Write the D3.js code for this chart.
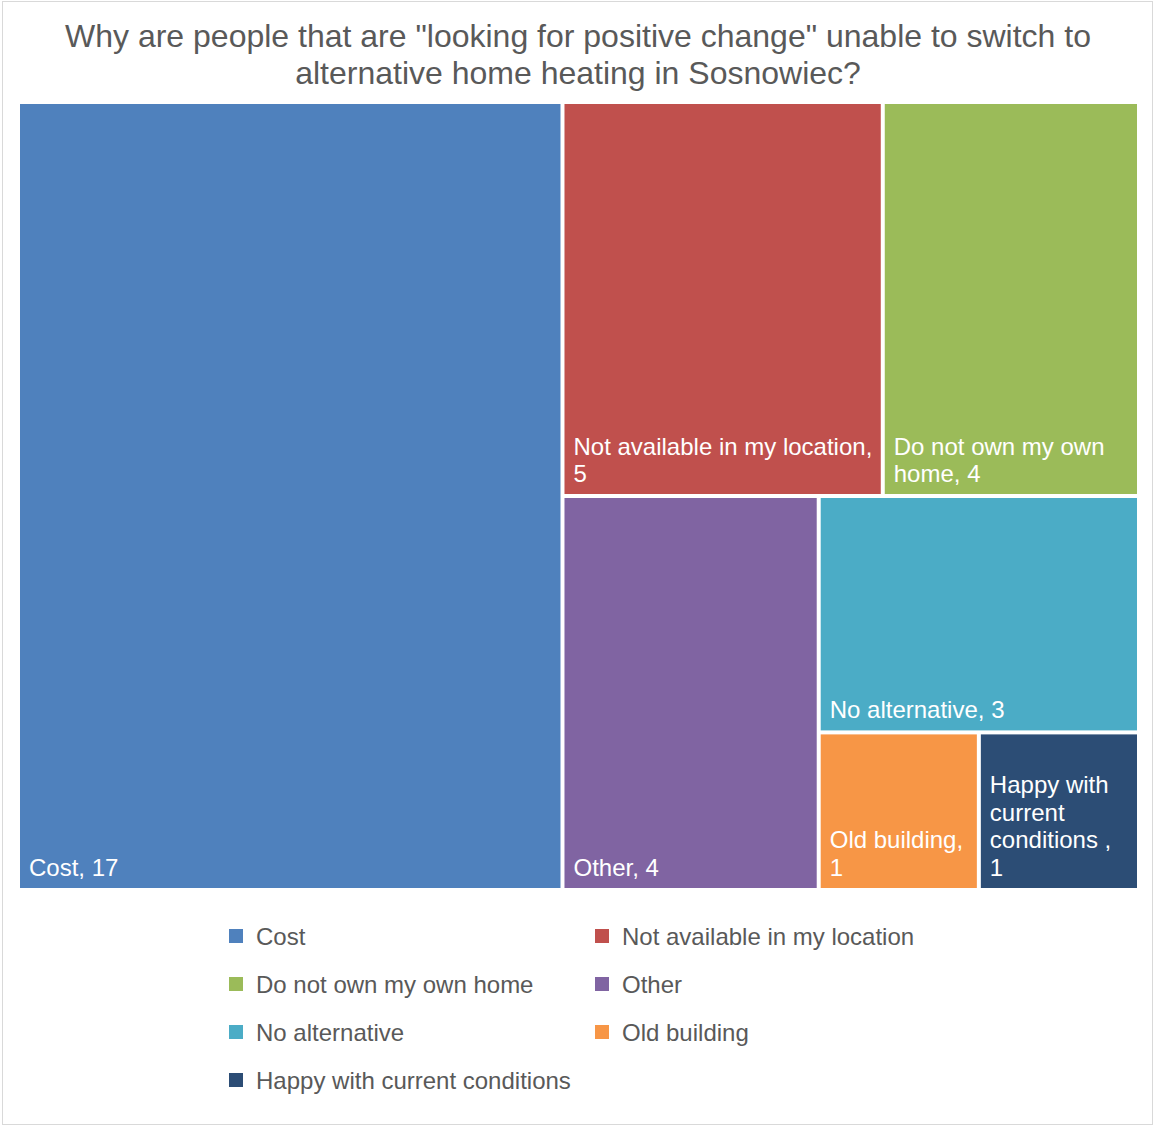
<!DOCTYPE html>
<html>
<head>
<meta charset="utf-8">
<script src="https://cdn.jsdelivr.net/npm/d3@7"></script>
<style>
  html, body { margin: 0; padding: 0; background: #fff; }
  svg { display: block; font-family: "Liberation Sans", Arial, sans-serif; }
</style>
</head>
<body>
<svg id="chart" width="1154" height="1126"></svg>
<script>
// ---- data ----
const titleLines = ["Why are people that are \"looking for positive change\" unable to switch to",
                    "alternative home heating in Sosnowiec?"];
const categories = ["Cost", "Not available in my location", "Do not own my own home", "Other",
                    "No alternative", "Old building", "Happy with current conditions "];
const values = [17, 5, 4, 4, 3, 1, 1];
const labelLines = [
  ["Cost, 17"],
  ["Not available in my location,", "5"],
  ["Do not own my own", "home, 4"],
  ["Other, 4"],
  ["No alternative, 3"],
  ["Old building,", "1"],
  ["Happy with", "current", "conditions ,", "1"]
];
const colors = ["#4F81BD", "#C0504D", "#9BBB59", "#8064A2", "#4BACC6", "#F79646", "#2C4D75"];

// ---- chart ----
const svg = d3.select("#chart");
const W = 1154, H = 1126;

svg.append("rect").attr("x", 2.5).attr("y", 1.5).attr("width", W - 4).attr("height", H - 3)
  .attr("fill", "#fff").attr("stroke", "#d9d9d9").attr("stroke-width", 1);

svg.append("g").selectAll("text").data(titleLines).join("text")
  .attr("x", 578).attr("y", (d, i) => 47 + i * 37)
  .attr("text-anchor", "middle").attr("font-size", 32).attr("fill", "#595959")
  .text(d => d);

const items = categories.map((c, i) => ({ name: c, value: values[i], lines: labelLines[i], color: colors[i], idx: i }));
const root = d3.hierarchy({ children: items })
  .sum(d => d.value || 0)
  .sort((a, b) => b.value - a.value);

const x0 = 20, y0 = 104, x1 = 1137, y1 = 888;
d3.treemap()
  .tile(d3.treemapSquarify.ratio(1))
  .size([x1 - x0, y1 - y0])
  .paddingInner(4)
  .round(false)(root);

const g = svg.append("g").attr("transform", `translate(${x0},${y0})`);
const leaf = g.selectAll("g").data(root.leaves()).join("g")
  .attr("transform", d => `translate(${d.x0},${d.y0})`);

leaf.append("rect")
  .attr("width", d => d.x1 - d.x0)
  .attr("height", d => d.y1 - d.y0)
  .attr("fill", d => d.data.color);

leaf.append("text")
  .attr("font-size", 24).attr("fill", "#fff")
  .selectAll("tspan").data(d => d.data.lines.map((l, i, arr) => ({ l, i, n: arr.length, h: d.y1 - d.y0 })))
  .join("tspan")
  .attr("x", 9)
  .attr("y", d => d.h - 12 - (d.n - 1 - d.i) * 27.5)
  .text(d => d.l);

// ---- legend ----
const legend = svg.append("g");
const legX = [229, 595];
const legY = [936, 984, 1032, 1080];
const li = legend.selectAll("g").data(categories).join("g")
  .attr("transform", (d, i) => `translate(${legX[i % 2]},${legY[Math.floor(i / 2)]})`);
li.append("rect").attr("x", 0).attr("y", -7).attr("width", 14).attr("height", 14)
  .attr("fill", (d, i) => colors[i]);
li.append("text").attr("x", 27).attr("y", 8.5).attr("font-size", 24).attr("fill", "#595959")
  .text(d => d.trim());
</script>
</body>
</html>
